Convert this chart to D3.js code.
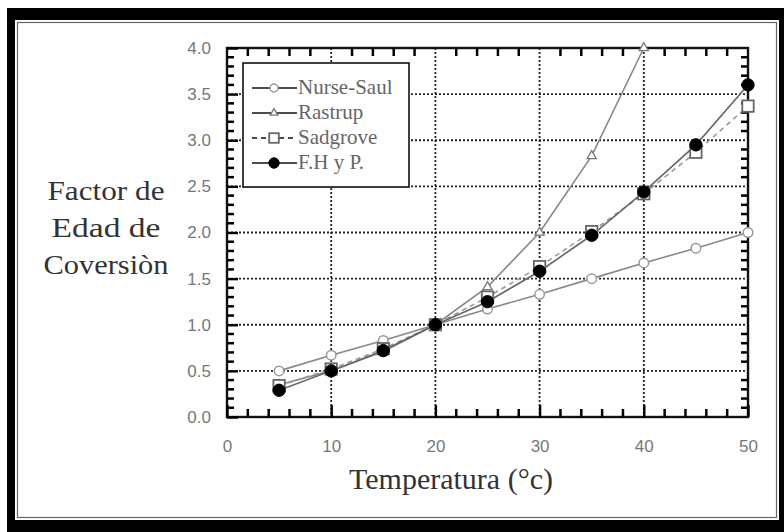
<!DOCTYPE html>
<html>
<head>
<meta charset="utf-8">
<script src="https://cdn.jsdelivr.net/npm/d3@7"></script>
<style>
  body { margin:0; background:#fff; }
  .tick text { font-family:"Liberation Sans", Arial, sans-serif; }
</style>
</head>
<body>
<svg id="chart" width="784" height="532"></svg>
<script>
// temperatures (°C) where each method was evaluated
var temps = [5, 10, 15, 20, 25, 30, 35, 40, 45, 50];
var tempsRastrup = [5, 10, 15, 20, 25, 30, 35, 40];

// conversion factors
var nurseSaul = [0.50, 0.67, 0.83, 1.00, 1.17, 1.33, 1.50, 1.67, 1.83, 2.00];
var rastrup   = [0.35, 0.50, 0.71, 1.00, 1.41, 2.00, 2.83, 4.00];
var sadgrove  = [0.34, 0.52, 0.74, 1.00, 1.30, 1.63, 2.01, 2.42, 2.87, 3.37];
var fhp       = [0.29, 0.50, 0.72, 1.00, 1.25, 1.58, 1.97, 2.44, 2.95, 3.60];

var xTicks = [0, 10, 20, 30, 40, 50];
var yTicks = [0, 0.5, 1, 1.5, 2, 2.5, 3, 3.5, 4];
var xMinor = [2, 4, 6, 8, 12, 14, 16, 18, 22, 24, 26, 28, 32, 34, 36, 38, 42, 44, 46, 48];
var yMinor = [0.1, 0.2, 0.3, 0.4, 0.6, 0.7, 0.8, 0.9, 1.1, 1.2, 1.3, 1.4, 1.6, 1.7, 1.8, 1.9,
              2.1, 2.2, 2.3, 2.4, 2.6, 2.7, 2.8, 2.9, 3.1, 3.2, 3.3, 3.4, 3.6, 3.7, 3.8, 3.9];
var legendNames = ["Nurse-Saul", "Rastrup", "Sadgrove", "F.H y P."];

var serif = "'Liberation Serif', 'Times New Roman', serif";
var svg = d3.select("#chart");

// outer frame: thick black band, thin grey line inside
svg.append("rect").attr("x", 7).attr("y", 8).attr("width", 777).attr("height", 524).attr("fill", "#000");
svg.append("rect").attr("x", 15).attr("y", 20).attr("width", 764).attr("height", 500).attr("fill", "#fff");
svg.append("rect").attr("x", 17.5).attr("y", 22.5).attr("width", 759).attr("height", 495)
  .attr("fill", "none").attr("stroke", "#666").attr("stroke-width", 1.2);

var x = d3.scaleLinear().domain([0, 50]).range([227, 748]);
var y = d3.scaleLinear().domain([0, 4]).range([417, 48]);

// grid
var grid = svg.append("g").attr("class", "grid");
grid.selectAll("line.v").data(xTicks.slice(1, -1)).enter().append("line")
  .attr("x1", function(d){ return x(d); }).attr("x2", function(d){ return x(d); })
  .attr("y1", y(4)).attr("y2", y(0))
  .attr("stroke", "#222").attr("stroke-width", 1.8).attr("stroke-dasharray", "2,2");
grid.selectAll("line.h").data(yTicks.slice(1, -1)).enter().append("line")
  .attr("x1", x(0)).attr("x2", x(50))
  .attr("y1", function(d){ return y(d); }).attr("y2", function(d){ return y(d); })
  .attr("stroke", "#222").attr("stroke-width", 1.8).attr("stroke-dasharray", "2,2");

// plot frame
svg.append("rect").attr("x", x(0)).attr("y", y(4))
  .attr("width", x(50) - x(0)).attr("height", y(0) - y(4))
  .attr("fill", "none").attr("stroke", "#111").attr("stroke-width", 2.4);

// minor ticks on all four sides, pointing inward
var ticks = svg.append("g").attr("class", "minor");
[y(0), y(4)].forEach(function(edge, k){
  var dir = k === 0 ? -1 : 1;
  ticks.selectAll("line.mx" + k).data(xMinor).enter().append("line")
    .attr("class", "mx" + k)
    .attr("x1", function(d){ return x(d); }).attr("x2", function(d){ return x(d); })
    .attr("y1", edge).attr("y2", edge + dir * 8)
    .style("stroke", "#000").style("stroke-width", "2.5px");
});
[x(0), x(50)].forEach(function(edge, k){
  var dir = k === 0 ? 1 : -1;
  ticks.selectAll("line.my" + k).data(yMinor).enter().append("line")
    .attr("class", "my" + k)
    .attr("y1", function(d){ return y(d); }).attr("y2", function(d){ return y(d); })
    .attr("x1", edge).attr("x2", edge + dir * 7)
    .style("stroke", "#000").style("stroke-width", "2.5px");
});

// major ticks + labels
var xAxis = svg.append("g").attr("transform", "translate(0," + y(0) + ")")
  .call(d3.axisBottom(x).tickValues(xTicks).tickSizeInner(-12).tickSizeOuter(0).tickPadding(23).tickFormat(d3.format("d")));
xAxis.select(".domain").remove();
xAxis.selectAll("line").attr("stroke", "#000").attr("stroke-width", 2.4);
xAxis.selectAll("text").attr("font-size", 17).attr("fill", "#777");

var yAxis = svg.append("g").attr("transform", "translate(" + x(0) + ",0)")
  .call(d3.axisLeft(y).tickValues(yTicks).tickSizeInner(-11).tickSizeOuter(0).tickPadding(16).tickFormat(d3.format(".1f")));
yAxis.select(".domain").remove();
yAxis.selectAll("line").attr("stroke", "#000").attr("stroke-width", 2.4);
yAxis.selectAll("text").attr("font-size", 17).attr("fill", "#777");

// series
var series = [
  { name: legendNames[0], xs: temps, ys: nurseSaul, dash: null, marker: "circleOpen", stroke: "#888" },
  { name: legendNames[1], xs: tempsRastrup, ys: rastrup, dash: null, marker: "triangle", stroke: "#888" },
  { name: legendNames[2], xs: temps, ys: sadgrove, dash: "5,4", marker: "square", stroke: "#999" },
  { name: legendNames[3], xs: temps, ys: fhp, dash: null, marker: "circleFilled", stroke: "#666" }
];

var line = d3.line().x(function(d){ return x(d[0]); }).y(function(d){ return y(d[1]); });

function drawMarker(g, kind, cx, cy, s){
  if (kind === "circleOpen") {
    g.append("circle").attr("cx", cx).attr("cy", cy).attr("r", 5 * s)
      .attr("fill", "#fff").attr("stroke", "#999").attr("stroke-width", 1.5);
  } else if (kind === "triangle") {
    g.append("path").attr("d", d3.symbol(d3.symbolTriangle, 40 * s * s)())
      .attr("transform", "translate(" + cx + "," + cy + ")")
      .attr("fill", "#fff").attr("stroke", "#777").attr("stroke-width", 1.3);
  } else if (kind === "square") {
    g.append("rect").attr("x", cx - 6 * s).attr("y", cy - 6 * s).attr("width", 12 * s).attr("height", 12 * s)
      .attr("fill", "#fff").attr("stroke", "#666").attr("stroke-width", 1.8);
  } else {
    g.append("circle").attr("cx", cx).attr("cy", cy).attr("r", 6.5 * s)
      .attr("fill", "#000").attr("stroke", "#000");
  }
}

var plot = svg.append("g");
series.forEach(function(s){
  var pts = s.xs.map(function(t, i){ return [t, s.ys[i]]; });
  plot.append("path").datum(pts).attr("d", line)
    .attr("fill", "none").attr("stroke", s.stroke).attr("stroke-width", 1.6)
    .attr("stroke-dasharray", s.dash);
});
series.forEach(function(s){
  s.xs.forEach(function(t, i){ drawMarker(plot, s.marker, x(t), y(s.ys[i]), 0.95); });
});

// legend
var leg = svg.append("g");
leg.append("rect").attr("x", 243).attr("y", 63).attr("width", 166).attr("height", 124)
  .attr("fill", "#fff").attr("stroke", "#111").attr("stroke-width", 1.6);
var legY = d3.scalePoint().domain(legendNames).range([88, 163]);
series.forEach(function(s){
  var ly = legY(s.name);
  leg.append("line").attr("x1", 252).attr("x2", 297).attr("y1", ly).attr("y2", ly)
    .attr("stroke", "#111").attr("stroke-width", 1.5).attr("stroke-dasharray", s.dash);
  drawMarker(leg, s.marker, 274, ly, 0.8);
  leg.append("text").attr("x", 298).attr("y", ly + 6).text(s.name)
    .attr("font-family", serif).attr("font-size", 21).attr("fill", "#666");
});

// axis titles
svg.append("text").attr("x", 451).attr("y", 489).attr("text-anchor", "middle")
  .attr("font-family", serif).attr("font-size", 30).attr("fill", "#333")
  .text("Temperatura (°c)");

var yTitle = ["Factor de", "Edad de", "Coversiòn"];
var yTitleWidth = [117, 109, 125];
svg.append("g").selectAll("text").data(yTitle).enter().append("text")
  .attr("x", 106).attr("y", function(d, i){ return 200 + i * 37; })
  .attr("text-anchor", "middle")
  .attr("font-family", serif).attr("font-size", 28).attr("fill", "#333")
  .attr("textLength", function(d, i){ return yTitleWidth[i]; })
  .attr("lengthAdjust", "spacingAndGlyphs")
  .text(function(d){ return d; });
</script>
</body>
</html>
